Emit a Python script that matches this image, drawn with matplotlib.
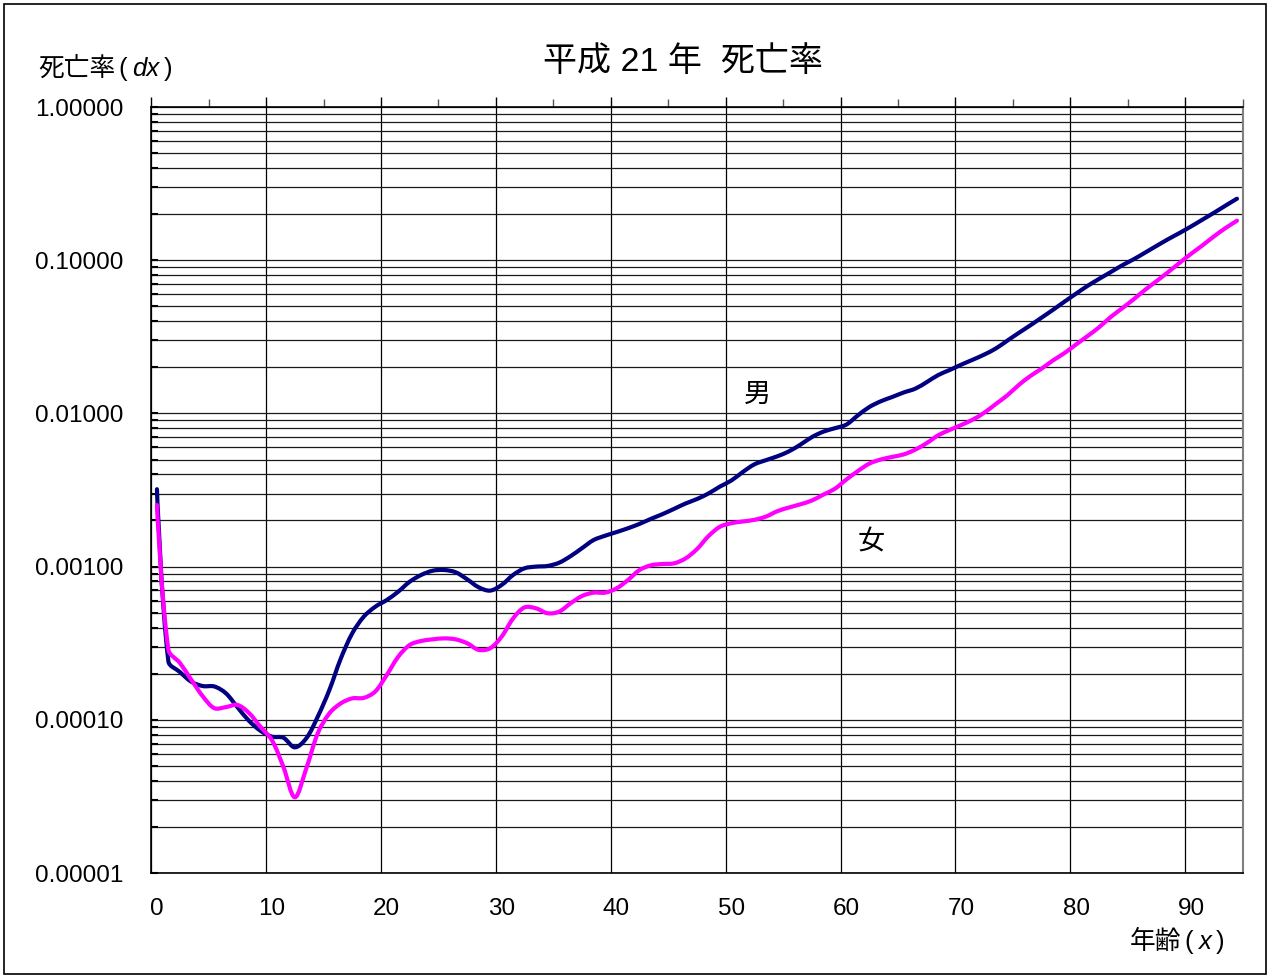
import numpy as np
import matplotlib
matplotlib.use("Agg")
import matplotlib.pyplot as plt
from matplotlib.path import Path
from matplotlib.patches import PathPatch, Rectangle
from matplotlib.ticker import FixedLocator, LogLocator, NullFormatter
from matplotlib.transforms import ScaledTranslation

plt.rcParams["font.family"] = ["Liberation Sans", "Noto Sans CJK JP", "DejaVu Sans"]

# ages 0..94 (one category per year)
ages = list(range(95))

male = [
    0.0032, 0.00024, 0.000205, 0.000177, 0.000166, 0.000165, 0.000149, 0.000121, 0.0000987, 0.0000849,
    0.0000776, 0.0000764, 0.0000661, 0.0000757, 0.000105, 0.000156, 0.000251, 0.000367, 0.000471, 0.000547,
    0.000605, 0.000686, 0.000797, 0.000882, 0.00094, 0.00095, 0.000918, 0.000826, 0.000733, 0.000697,
    0.000759, 0.000882, 0.000975, 0.0010, 0.00101, 0.00106, 0.00117, 0.00132, 0.00149, 0.00159,
    0.00168, 0.00178, 0.00190, 0.00205, 0.00220, 0.00238, 0.00258, 0.00276, 0.00300, 0.00333,
    0.00365, 0.00415, 0.00465, 0.00495, 0.00525, 0.00565, 0.00625, 0.00700, 0.00760, 0.00800,
    0.00845, 0.0097, 0.0110, 0.0120, 0.0128, 0.0137, 0.0145, 0.0160, 0.0178, 0.0192,
    0.0208, 0.0224, 0.0242, 0.0265, 0.0298, 0.0335, 0.0375, 0.0422, 0.0475, 0.0537,
    0.0605, 0.0680, 0.0755, 0.0835, 0.0925, 0.1013, 0.1120, 0.1240, 0.1370, 0.1505,
    0.1660, 0.1840, 0.2040, 0.2270, 0.2520,
]

female = [
    0.00252, 0.000286, 0.000235, 0.000182, 0.000142, 0.000119, 0.000121, 0.000125, 0.000111, 0.0000902,
    0.0000738, 0.0000494, 0.0000312, 0.0000482, 0.0000817, 0.000110, 0.000128, 0.000138, 0.000139, 0.000153,
    0.000196, 0.000258, 0.000308, 0.000327, 0.000335, 0.00034, 0.000335, 0.000316, 0.000286, 0.000293,
    0.000349, 0.000459, 0.000542, 0.000534, 0.000496, 0.000508, 0.000576, 0.000643, 0.000676, 0.000676,
    0.000721, 0.000818, 0.00095, 0.00102, 0.00104, 0.00105, 0.00113, 0.00130, 0.00158, 0.00182,
    0.00192, 0.00197, 0.00202, 0.00212, 0.00230, 0.00243, 0.00255, 0.00270, 0.00295, 0.00322,
    0.00370, 0.0042, 0.0047, 0.0050, 0.0052, 0.0054, 0.0058, 0.0064, 0.0072, 0.0078,
    0.0084, 0.0091, 0.0101, 0.0115, 0.0131, 0.0153, 0.0175, 0.0196, 0.0222, 0.0248,
    0.0282, 0.0320, 0.0365, 0.0425, 0.0485, 0.0555, 0.0640, 0.0730, 0.0835, 0.0960,
    0.1100, 0.1250, 0.1430, 0.1620, 0.1810,
]

x_labels = ["0", "10", "20", "30", "40", "50", "60", "70", "80", "90"]
y_ticks = [0.00001, 0.0001, 0.001, 0.01, 0.1, 1.0]

W, H = 1270, 976


def smooth_patch(xs, ys, color):
    # excel-like smoothed line (bezier, tangents weighted by segment length)
    px = np.asarray(xs, float) * 11.49
    py = np.log10(np.asarray(ys, float)) * 153.2
    P = np.column_stack([px, py])
    n = len(P)
    verts = [P[0]]
    codes = [Path.MOVETO]
    for i in range(n - 1):
        a = max(i - 1, 0)
        d = min(i + 2, n - 1)
        d01 = np.hypot(*(P[i + 1] - P[i]))
        c1 = P[i].copy()
        if i > 0:
            dprev = np.hypot(*(P[i] - P[a]))
            c1 = P[i] + (P[i + 1] - P[a]) * d01 / (dprev + d01) / 3
        c2 = P[i + 1].copy()
        if i + 2 < n:
            dnext = np.hypot(*(P[d] - P[i + 1]))
            c2 = P[i + 1] - (P[d] - P[i]) * d01 / (d01 + dnext) / 3
        verts += [c1, c2, P[i + 1]]
        codes += [Path.CURVE4] * 3
    verts = np.array(verts)
    verts[:, 0] = verts[:, 0] / 11.49
    verts[:, 1] = 10 ** (verts[:, 1] / 153.2)
    return PathPatch(Path(verts, codes), fill=False, edgecolor=color, lw=3.0,
                     capstyle="round", joinstyle="round", zorder=3)


fig = plt.figure(figsize=(12.7, 9.76), dpi=100)
ax = fig.add_axes([151.2 / W, 1 - 873 / H, (1242.7 - 151.2) / W, 766 / H])

ax.set_yscale("log")
ax.set_xlim(0, 95)
ax.set_ylim(1e-5, 1)

xc = np.asarray(ages) + 0.5
ax.add_patch(smooth_patch(xc, male, "#000080"))
ax.add_patch(smooth_patch(xc, female, "#FF00FF"))

# grid
ax.yaxis.set_major_locator(FixedLocator(y_ticks))
ax.yaxis.set_minor_locator(LogLocator(base=10, subs=np.arange(2, 10)))
ax.yaxis.set_minor_formatter(NullFormatter())
ax.set_yticklabels(["%.5f" % v for v in y_ticks])
ax.grid(True, which="both", axis="y", color="#1a1a1a", lw=0.9)
ax.set_xticks(range(0, 100, 10)[:10])
ax.set_xticklabels(x_labels)
ax.xaxis.set_minor_locator(FixedLocator(range(5, 100, 10)))
ax.grid(True, which="major", axis="x", color="black", lw=0.9)
ax.set_axisbelow(True)

ax.tick_params(axis="x", which="both", top=True, bottom=False, labelbottom=True,
               direction="out", pad=11, labelsize=17.5)
ax.tick_params(axis="x", which="major", length=7, width=1)
ax.tick_params(axis="x", which="minor", length=6, width=1, color="#555555")
ax.tick_params(axis="y", which="both", direction="in", length=5, width=1.5,
               pad=20, labelsize=17.5)
off = ScaledTranslation(5.75 / 100, 0, fig.dpi_scale_trans)
for lab in ax.get_xticklabels():
    lab.set_transform(lab.get_transform() + off)

for s in ["left", "top", "bottom"]:
    ax.spines[s].set_color("black")
    ax.spines[s].set_linewidth(1.2)
ax.spines["right"].set_color("#808080")
ax.spines["right"].set_linewidth(1.5)

# texts
renderer = fig.canvas.get_renderer()


def mixed_text(x0, ybase, parts, size):
    # pieces on one baseline, italic where asked; gap = px before each piece
    x = x0
    for s, st, gap in parts:
        x += gap
        t = fig.text(x / W, 1 - ybase / H, s, ha="left", va="baseline", fontsize=size, style=st)
        x = t.get_window_extent(renderer).x1


fig.text(683 / W, 1 - 71 / H, "平成 21 年  死亡率", ha="center", va="baseline", fontsize=24.5)
mixed_text(38, 76, [("死亡率", "normal", 0), ("(", "normal", 3), ("dx", "italic", 5),
                    (")", "normal", 5)], 18.5)
mixed_text(1130, 949, [("年齢", "normal", 0), ("(", "normal", 3), ("x", "italic", 5),
                       (")", "normal", 5)], 18.5)
ax.text(52.8, 0.0132, "男", ha="center", va="center", fontsize=19.5)
ax.text(62.7, 0.00143, "女", ha="center", va="center", fontsize=19.5)

fig.add_artist(Rectangle((4 / W, 2 / H), 1262 / W, 970 / H, transform=fig.transFigure,
                         fill=False, edgecolor="black", lw=1.2))

fig.savefig("out.png", dpi=100)
